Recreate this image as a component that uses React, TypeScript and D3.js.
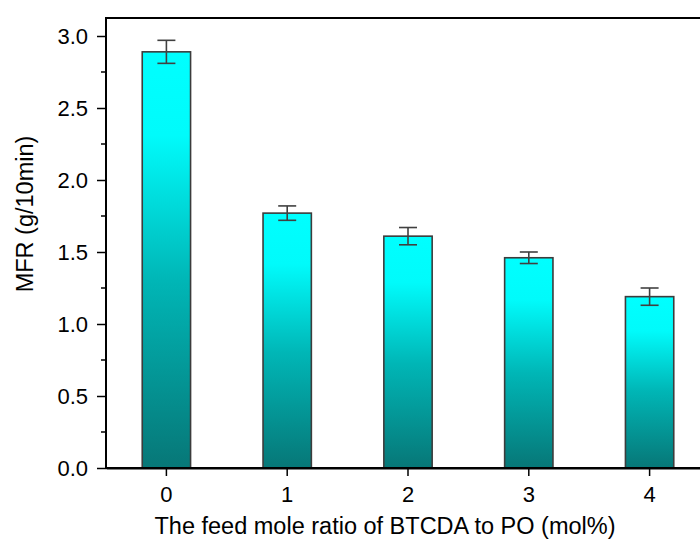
import React, { useEffect, useRef } from "react";
import * as d3 from "d3";

// MFR vs feed mole ratio, bars with error bars
const categories = ["0", "1", "2", "3", "4"];
const mfr = [2.89, 1.77, 1.61, 1.46, 1.19];
const mfrErr = [0.08, 0.05, 0.06, 0.04, 0.06];
const yTicks = [0, 0.5, 1.0, 1.5, 2.0, 2.5, 3.0];
const yMinorTicks = [0.25, 0.75, 1.25, 1.75, 2.25, 2.75];

const App = () => {
    const container = useRef<HTMLDivElement>(null);

    useEffect(() => {
        const el = container.current;
        if (!el) return;
        el.innerHTML = "";

        const W = 700, H = 539;
        const margin = { top: 18, right: -10, bottom: 71, left: 106 };
        const width = W - margin.left - margin.right;
        const height = H - margin.top - margin.bottom;
        const font = "'Liberation Sans', Arial, sans-serif";

        const svg = d3.select(el)
            .append("svg")
            .attr("width", W)
            .attr("height", H)
            .style("display", "block");

        const defs = svg.append("defs");
        const grad = defs.append("linearGradient")
            .attr("id", "barGrad")
            .attr("x1", 0).attr("y1", 0).attr("x2", 0).attr("y2", 1);
        grad.append("stop").attr("offset", 0).attr("stop-color", "#00ffff");
        grad.append("stop").attr("offset", 0.2).attr("stop-color", "#00fbfb");
        grad.append("stop").attr("offset", 0.55).attr("stop-color", "#00b6b6");
        grad.append("stop").attr("offset", 1).attr("stop-color", "#077777");

        const g = svg.append("g")
            .attr("transform", `translate(${margin.left},${margin.top})`);

        const x = d3.scaleBand()
            .domain(categories)
            .range([0, width])
            .paddingInner(0.6)
            .paddingOuter(0.3);

        const y = d3.scaleLinear()
            .domain([0, 3.125])
            .range([height, 0]);

        // bars
        g.selectAll("rect.bar")
            .data(mfr)
            .enter()
            .append("rect")
            .attr("class", "bar")
            .attr("x", (d, i) => x(categories[i])!)
            .attr("y", (d) => y(d))
            .attr("width", x.bandwidth())
            .attr("height", (d) => height - y(d))
            .attr("fill", "url(#barGrad)")
            .attr("stroke", "#3c3c3c")
            .attr("stroke-width", 1.6);

        // error bars
        const eb = g.selectAll("g.err")
            .data(mfr)
            .enter()
            .append("g")
            .attr("class", "err")
            .attr("stroke", "#404040")
            .attr("stroke-width", 1.6);
        const cx = (i: number) => x(categories[i])! + x.bandwidth() / 2;
        eb.append("line")
            .attr("x1", (d, i) => cx(i)).attr("x2", (d, i) => cx(i))
            .attr("y1", (d, i) => y(d + mfrErr[i]))
            .attr("y2", (d, i) => y(d - mfrErr[i]));
        eb.append("line")
            .attr("x1", (d, i) => cx(i) - 9).attr("x2", (d, i) => cx(i) + 9)
            .attr("y1", (d, i) => y(d + mfrErr[i]))
            .attr("y2", (d, i) => y(d + mfrErr[i]));
        eb.append("line")
            .attr("x1", (d, i) => cx(i) - 9).attr("x2", (d, i) => cx(i) + 9)
            .attr("y1", (d, i) => y(d - mfrErr[i]))
            .attr("y2", (d, i) => y(d - mfrErr[i]));

        // frame
        g.append("rect")
            .attr("x", 0).attr("y", 0)
            .attr("width", width).attr("height", height)
            .attr("fill", "none")
            .attr("stroke", "#000")
            .attr("stroke-width", 2);

        // x axis
        const xAxis = g.append("g")
            .attr("transform", `translate(0,${height})`)
            .call(d3.axisBottom(x).tickSize(8).tickSizeOuter(0).tickPadding(10));
        xAxis.select(".domain").attr("stroke-width", 2);
        xAxis.selectAll(".tick line").attr("stroke-width", 1.5);
        xAxis.selectAll("text")
            .style("font-family", font)
            .style("font-size", "22px")
            .attr("fill", "#000");

        // y axis
        const yAxis = g.append("g")
            .call(d3.axisLeft(y).tickValues(yTicks).tickFormat(d3.format(".1f"))
                .tickSize(9).tickSizeOuter(0).tickPadding(9));
        yAxis.select(".domain").remove();
        yAxis.selectAll(".tick line").attr("stroke-width", 1.5);
        yAxis.selectAll("text")
            .style("font-family", font)
            .style("font-size", "22px")
            .attr("fill", "#000");

        g.selectAll("line.minor")
            .data(yMinorTicks)
            .enter()
            .append("line")
            .attr("class", "minor")
            .attr("x1", -5).attr("x2", 0)
            .attr("y1", (d) => y(d)).attr("y2", (d) => y(d))
            .attr("stroke", "#000")
            .attr("stroke-width", 1.5);

        // axis titles
        svg.append("text")
            .attr("x", 385)
            .attr("y", 534)
            .attr("text-anchor", "middle")
            .style("font-family", font)
            .style("font-size", "23.5px")
            .text("The feed mole ratio of BTCDA to PO (mol%)");

        svg.append("text")
            .attr("transform", "translate(33,214) rotate(-90)")
            .attr("text-anchor", "middle")
            .style("font-family", font)
            .style("font-size", "23.5px")
            .text("MFR (g/10min)");
    }, []);

    return (
        <div ref={container} style={{ position: "absolute", left: 0, top: 0, width: 700, height: 539, overflow: "hidden", background: "#fff" }}></div>
    );
};

export default App;
